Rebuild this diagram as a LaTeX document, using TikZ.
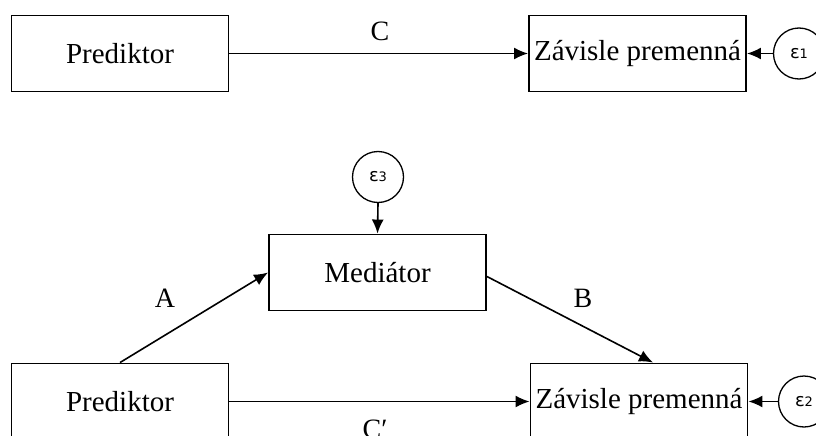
\documentclass[tikz,border=0pt]{standalone}
\usepackage{fontspec}
\setmainfont{Liberation Serif}
\newfontfamily\epsfont{DejaVu Sans}
\usetikzlibrary{arrows.meta}
\newcommand{\epslab}[1]{\epsfont\fontsize{18}{18}\selectfont ε\fontsize{13}{13}\selectfont #1}
\begin{document}
\begin{tikzpicture}[x=1pt,y=-1pt,
  box/.style={draw, line width=1.9pt, minimum width=217pt, minimum height=76pt, inner sep=0pt, font=\fontsize{29}{31}\selectfont},
  err/.style={draw, circle, line width=1.3pt, minimum size=51pt, inner sep=0pt},
  conn/.style={line width=1.6pt, -{Latex[length=14pt,width=12pt]}},
  lab/.style={font=\fontsize{28}{30}\selectfont}]
\useasboundingbox (0,0) rectangle (816,436);
\clip (0,0) rectangle (816,436);
\fill[white] (0,0) rectangle (816,436);
% top model
\node[box] (P1) at (120,53.5) {Prediktor};
\node[box] (Z1) at (637.5,53.5) {Závisle premenná};
\node[err] (e1) at (799,53.5) {\epslab{1}};
\draw[conn] (P1.east) -- (Z1.west);
\draw[conn] (e1.west) -- (Z1.east);
\node[lab] (lC) at (380,31) {C};
% bottom model
\node[box] (M) at (377.5,272.5) {Mediátor};
\node[err] (e3) at (378,177) {\epslab{3}};
\node[box] (P2) at (120,401.5) {Prediktor};
\node[box] (Z2) at (639,401.5) {Závisle premenná};
\node[err] (e2) at (804,401.5) {\epslab{2}};
\draw[conn] (e3.south) -- (M.north);
\draw[conn] (P2.north) -- (M.west);
\draw[conn] (M.east) ++(0,4) coordinate (mB) -- ([xshift=14pt]Z2.north);
\draw[conn] (P2.east) -- (Z2.west);
\draw[conn] (e2.west) -- (Z2.east);
\node[lab] (lA) at (165,298) {A};
\node[lab] (lB) at (583,298) {B};
\node[lab] (lC2) at (375,429) {C′};
\end{tikzpicture}
\end{document}
